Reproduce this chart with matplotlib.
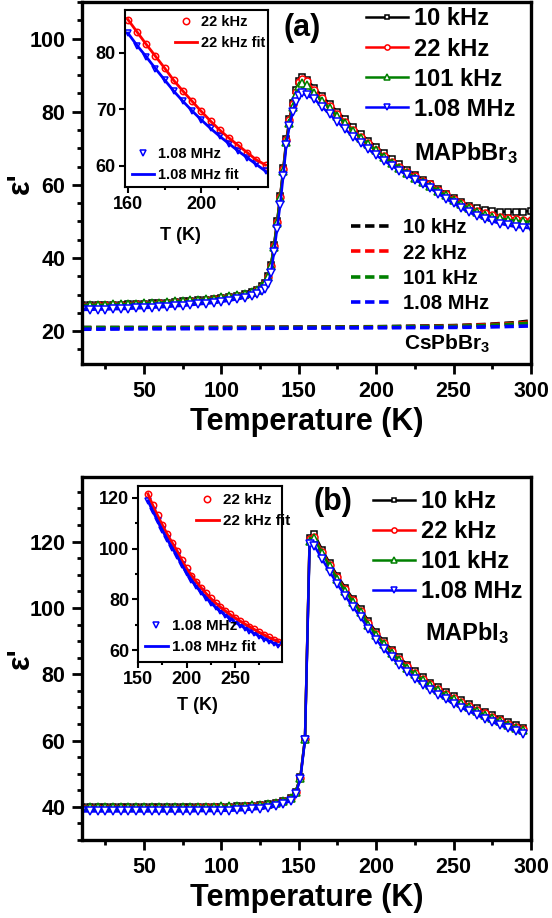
import matplotlib
matplotlib.use("Agg")
import matplotlib.pyplot as plt
from matplotlib.ticker import MultipleLocator

plt.rcParams['font.family'] = ['Liberation Sans', 'DejaVu Sans']
plt.rcParams['font.weight'] = 'bold'
plt.rcParams['mathtext.fontset'] = 'custom'
plt.rcParams['mathtext.rm'] = 'Liberation Sans:bold'
plt.rcParams['mathtext.it'] = 'Liberation Sans:bold'
plt.rcParams['mathtext.bf'] = 'Liberation Sans:bold'

## data
freqs = ['10 kHz', '22 kHz', '101 kHz', '1.08 MHz']
colors = ['black', '#ff0000', '#008000', '#0000ff']
markers = ['s', 'o', '^', 'v']
msizes = [4.6, 5.0, 5.6, 6.0]

# (a) MAPbBr3
T_a = list(range(10, 121, 5)) + [123, 126, 128, 130, 132, 134, 136, 138, 140, 142,
                                  144, 146, 148, 150, 152, 155] + list(range(160, 301, 5))
a_10k = [27.0, 27.0, 27.1, 27.1, 27.2, 27.2, 27.3, 27.4, 27.5, 27.6, 27.7, 27.8, 28.0,
         28.1, 28.3, 28.4, 28.6, 28.8, 29.1, 29.4, 29.7, 30.1, 30.6,
         31.2, 32.2, 33.2, 35.0, 38.0, 43.5, 50.0, 57.0, 64.5, 72.5, 78.0, 82.5, 86.0,
         88.5, 89.6, 88.8,
         86.6, 84.3, 82.1, 80.0, 77.9, 75.8, 73.9, 72.1, 70.4, 68.7, 67.2, 65.6, 64.1,
         62.7, 61.4, 60.2, 58.9, 57.6, 56.4, 55.3, 54.3, 53.6, 53.1, 52.8, 52.7, 52.6,
         52.6, 52.7, 52.8]
a_22k = [26.9, 26.9, 27.0, 27.0, 27.1, 27.1, 27.2, 27.3, 27.4, 27.5, 27.6, 27.7, 27.9,
         28.0, 28.2, 28.3, 28.5, 28.7, 29.0, 29.3, 29.6, 30.0, 30.5,
         31.1, 32.1, 33.1, 34.9, 37.9, 43.3, 49.8, 56.8, 64.2, 72.2, 77.6, 82.0, 85.5,
         88.0, 89.0, 88.3,
         85.9, 83.7, 81.5, 79.4, 77.3, 75.1, 73.2, 71.4, 69.6, 67.9, 66.3, 64.9, 63.6,
         62.3, 61.0, 60.1, 58.7, 57.4, 56.2, 55.0, 53.9, 52.9, 52.2, 51.7, 51.3, 51.0,
         50.7, 50.5, 50.4]
a_101k = [27.1, 27.1, 27.2, 27.2, 27.3, 27.3, 27.4, 27.5, 27.6, 27.7, 27.8, 27.9, 28.1,
          28.2, 28.4, 28.5, 28.7, 28.9, 29.2, 29.5, 29.8, 30.2, 30.7,
          31.3, 32.3, 33.2, 34.9, 37.8, 43.1, 49.6, 56.5, 63.9, 71.7, 77.0, 81.2, 84.6,
          86.9, 87.8, 87.2,
          85.2, 83.0, 80.9, 78.8, 76.8, 74.8, 72.9, 71.1, 69.4, 67.7, 66.1, 64.7, 63.3,
          62.0, 60.8, 59.7, 58.4, 57.1, 55.9, 54.7, 53.6, 52.6, 51.8, 51.2, 50.8, 50.5,
          50.2, 50.0, 49.9]
a_108M = [25.8, 25.8, 25.9, 25.9, 26.0, 26.0, 26.1, 26.2, 26.3, 26.4, 26.5, 26.6, 26.8,
          26.9, 27.1, 27.3, 27.5, 27.7, 28.0, 28.3, 28.7, 29.1, 29.6,
          30.2, 31.0, 31.6, 33.0, 35.8, 41.5, 48.0, 54.5, 62.5, 71.0, 76.2, 80.0, 82.6,
          84.3, 85.0, 84.5,
          83.5, 81.3, 79.3, 77.2, 75.2, 73.2, 71.4, 69.7, 68.1, 66.6, 65.2, 63.9, 62.6,
          61.4, 60.2, 59.0, 57.6, 56.2, 54.9, 53.6, 52.5, 51.5, 50.7, 50.0, 49.4, 48.9,
          48.5, 48.3, 48.1]

# (a) CsPbBr3 (dashed)
T_cs = [10, 50, 100, 150, 200, 250, 270, 290, 300]
cs_10k = [21.0, 21.0, 21.0, 21.1, 21.2, 21.5, 21.8, 22.3, 22.8]
cs_22k = [20.9, 20.9, 21.0, 21.0, 21.1, 21.4, 21.7, 22.1, 22.5]
cs_101k = [20.9, 20.9, 20.9, 21.0, 21.1, 21.3, 21.5, 21.9, 22.2]
cs_108M = [20.5, 20.6, 20.7, 20.8, 20.9, 21.0, 21.1, 21.3, 21.4]

# (b) MAPbI3
T_b = list(range(10, 146, 5)) + [148, 151, 154, 157] + list(range(160, 296, 5))
b_10k = [39.8, 39.8, 39.8, 39.8, 39.8, 39.8, 39.8, 39.8, 39.8, 39.8, 39.8, 39.8, 39.8,
         39.8, 39.8, 39.9, 39.9, 39.9, 40.0, 40.0, 40.1, 40.2, 40.3, 40.5, 40.8, 41.2,
         41.8, 42.8,
         44.6, 48.9, 60.6, 121.0,
         122.3, 117.6, 113.5, 109.7, 106.1, 102.8, 99.7, 96.0, 92.7, 89.9, 87.4, 85.1,
         82.9, 80.9, 79.1, 77.5, 76.0, 74.6, 73.3, 72.1, 70.9, 69.8, 68.7, 67.6, 66.6,
         65.6, 64.7, 63.9]
b_22k = [39.7, 39.7, 39.7, 39.7, 39.7, 39.7, 39.7, 39.7, 39.7, 39.7, 39.7, 39.7, 39.7,
         39.7, 39.7, 39.8, 39.8, 39.8, 39.9, 39.9, 40.0, 40.1, 40.2, 40.4, 40.7, 41.1,
         41.7, 42.7,
         44.5, 48.8, 60.5, 120.8,
         121.5, 117.0, 113.0, 109.2, 105.6, 102.3, 99.2, 95.5, 92.2, 89.4, 86.9, 84.6,
         82.4, 80.4, 78.6, 77.0, 75.5, 74.1, 72.8, 71.6, 70.4, 69.3, 68.2, 67.1, 66.1,
         65.1, 64.2, 63.4]
b_101k = [39.9, 39.9, 39.9, 39.9, 39.9, 39.9, 39.9, 39.9, 39.9, 39.9, 39.9, 39.9, 39.9,
          39.9, 39.9, 40.0, 40.0, 40.0, 40.1, 40.1, 40.2, 40.3, 40.4, 40.6, 40.9, 41.3,
          41.9, 42.8,
          44.4, 48.7, 60.4, 120.3,
          121.0, 116.5, 112.5, 108.7, 105.1, 101.8, 98.7, 95.0, 91.8, 89.0, 86.5, 84.2,
          82.0, 80.0, 78.2, 76.6, 75.1, 73.7, 72.4, 71.2, 70.0, 68.9, 67.8, 66.8, 65.8,
          64.8, 63.9, 63.1]
b_108M = [38.6, 38.6, 38.6, 38.6, 38.6, 38.6, 38.6, 38.6, 38.6, 38.6, 38.6, 38.6, 38.6,
          38.6, 38.6, 38.7, 38.7, 38.7, 38.8, 38.8, 38.9, 39.0, 39.2, 39.4, 39.7, 40.1,
          40.8, 41.9,
          43.9, 48.3, 60.1, 119.2,
          118.8, 114.8, 110.9, 107.1, 103.6, 100.3, 97.2, 93.6, 90.4, 87.6, 85.1, 82.8,
          80.7, 78.7, 76.9, 75.3, 73.8, 72.4, 71.1, 69.9, 68.8, 67.7, 66.6, 65.6, 64.6,
          63.7, 62.8, 62.0]


def style_main(ax):
    for s in ax.spines.values():
        s.set_linewidth(2.4)
    ax.tick_params(which='both', direction='out', width=2.0, top=False, right=False,
                   labelsize=15.5, pad=5)
    ax.tick_params(which='major', length=7)
    ax.tick_params(which='minor', length=3.5)
    ax.set_xlim(10, 300)
    ax.xaxis.set_major_locator(MultipleLocator(50))
    ax.xaxis.set_minor_locator(MultipleLocator(25))
    ax.yaxis.set_major_locator(MultipleLocator(20))
    ax.yaxis.set_minor_locator(MultipleLocator(5))
    ax.set_xlabel('Temperature (K)', fontsize=22, fontweight='bold')
    ax.xaxis.set_label_coords(0.5, -0.118)
    ax.set_ylabel("ε'", fontsize=22, fontweight='bold')
    ax.yaxis.set_label_coords(-0.102, 0.5)


def style_inset(ax):
    for s in ax.spines.values():
        s.set_linewidth(1.5)
    ax.tick_params(which='both', direction='out', width=1.5, top=False, right=False,
                   labelsize=13, pad=2)
    ax.tick_params(which='major', length=4.5)
    ax.tick_params(which='minor', length=2.5)
    ax.set_xlabel('T (K)', fontsize=13, fontweight='bold', labelpad=1)


def main_series(ax, T, series):
    hs = []
    for vals, c, m, ms, lab in zip(series, colors, markers, msizes, freqs):
        h, = ax.plot(T, vals, color=c, lw=1.8, marker=m, ms=ms, mfc='white', mec=c,
                     mew=1.1, label=lab)
        hs.append(h)
    return hs


def inset_series(ax, T, v22, v108, tmin, tmax):
    T22 = [t for t in T if tmin <= t <= tmax]
    y22 = [v for t, v in zip(T, v22) if tmin <= t <= tmax]
    y108 = [v for t, v in zip(T, v108) if tmin <= t <= tmax]
    h1, = ax.plot(T22, y22, ls='none', marker='o', ms=4.6, mfc='none', mec=colors[1],
                  mew=1.1, label='22 kHz')
    h3, = ax.plot(T22, y108, ls='none', marker='v', ms=5.0, mfc='none', mec=colors[3],
                  mew=1.1, label='1.08 MHz')
    h2, = ax.plot(T22, y22, color=colors[1], lw=2.0, label='22 kHz fit')
    h4, = ax.plot(T22, y108, color=colors[3], lw=2.0, label='1.08 MHz fit')
    return [h1, h2], [h3, h4]


fig = plt.figure(figsize=(5.52, 9.18), dpi=100)

## panel (a)
ax_a = fig.add_axes([0.1486, 0.6035, 0.8134, 0.3943])
hs = main_series(ax_a, T_a, [a_10k, a_22k, a_101k, a_108M])
dh = []
for vals, c, lab in zip([cs_10k, cs_22k, cs_101k, cs_108M], colors, freqs):
    h, = ax_a.plot(T_cs, vals, color=c, lw=2.6, ls=(0, (2.6, 1.3)), label=lab)
    dh.append(h)
style_main(ax_a)
ax_a.set_ylim(11, 110)
leg = ax_a.legend(handles=hs, loc='upper left', bbox_to_anchor=(0.632, 0.985),
                  frameon=False, fontsize=17, handlelength=1.8, handletextpad=0.25,
                  labelspacing=0.3, borderpad=0, borderaxespad=0, markerscale=0.75)
ax_a.add_artist(leg)
ax_a.legend(handles=dh, loc='upper left', bbox_to_anchor=(0.599, 0.402),
            frameon=False, fontsize=14.5, handlelength=2.0, handletextpad=0.6,
            labelspacing=0.3, borderpad=0, borderaxespad=0)
ax_a.text(0.739, 0.5635, 'MAPbBr$_3$', transform=ax_a.transAxes, fontsize=17,
          fontweight='bold', ha='left', va='baseline')
ax_a.text(0.717, 0.039, 'CsPbBr$_3$', transform=ax_a.transAxes, fontsize=15,
          fontweight='bold', ha='left', va='baseline')
ax_a.text(0.49, 0.928, '(a)', transform=ax_a.transAxes, fontsize=22,
          fontweight='bold', ha='center', va='center')

ins_a = fig.add_axes([0.2264, 0.7963, 0.2591, 0.1928])
top_h, bot_h = inset_series(ins_a, T_a, a_22k, a_108M, 160, 235)
style_inset(ins_a)
ins_a.set_xlim(158.4, 236.3)
ins_a.set_ylim(56.2, 87.6)
ins_a.xaxis.set_major_locator(MultipleLocator(40))
ins_a.xaxis.set_minor_locator(MultipleLocator(20))
ins_a.yaxis.set_major_locator(MultipleLocator(10))
ins_a.xaxis.set_label_coords(0.39, -0.225)
lg = ins_a.legend(handles=top_h, loc='upper left', bbox_to_anchor=(0.35, 0.97),
                  frameon=False, fontsize=10.5, handlelength=1.5, handletextpad=0.3,
                  labelspacing=0.45, borderpad=0, borderaxespad=0)
ins_a.add_artist(lg)
ins_a.legend(handles=bot_h, loc='lower left', bbox_to_anchor=(0.05, 0.03),
             frameon=False, fontsize=10.5, handlelength=1.5, handletextpad=0.3,
             labelspacing=0.45, borderpad=0, borderaxespad=0)

## panel (b)
ax_b = fig.add_axes([0.1486, 0.0850, 0.8134, 0.3954])
hs = main_series(ax_b, T_b, [b_10k, b_22k, b_101k, b_108M])
style_main(ax_b)
ax_b.set_ylim(30, 139.5)
ax_b.legend(handles=hs, loc='upper left', bbox_to_anchor=(0.647, 0.964),
            frameon=False, fontsize=17, handlelength=1.8, handletextpad=0.25,
            labelspacing=0.3, borderpad=0, borderaxespad=0, markerscale=0.75)
ax_b.text(0.764, 0.551, 'MAPbI$_3$', transform=ax_b.transAxes, fontsize=17,
          fontweight='bold', ha='left', va='baseline')
ax_b.text(0.558, 0.931, '(b)', transform=ax_b.transAxes, fontsize=22,
          fontweight='bold', ha='center', va='center')

ins_b = fig.add_axes([0.2505, 0.2789, 0.261, 0.1917])
top_h, bot_h = inset_series(ins_b, T_b, b_22k, b_108M, 160, 295)
style_inset(ins_b)
ins_b.set_xlim(150, 299)
ins_b.set_ylim(55.4, 124.6)
ins_b.xaxis.set_major_locator(MultipleLocator(50))
ins_b.xaxis.set_minor_locator(MultipleLocator(25))
ins_b.yaxis.set_major_locator(MultipleLocator(20))
ins_b.yaxis.set_minor_locator(MultipleLocator(10))
ins_b.xaxis.set_label_coords(0.41, -0.2)
lg = ins_b.legend(handles=top_h, loc='upper left', bbox_to_anchor=(0.40, 0.96),
                  frameon=False, fontsize=11, handlelength=1.5, handletextpad=0.3,
                  labelspacing=0.45, borderpad=0, borderaxespad=0)
ins_b.add_artist(lg)
ins_b.legend(handles=bot_h, loc='lower left', bbox_to_anchor=(0.046, 0.045),
             frameon=False, fontsize=11, handlelength=1.5, handletextpad=0.3,
             labelspacing=0.45, borderpad=0, borderaxespad=0)

fig.savefig('out.png', dpi=100)
